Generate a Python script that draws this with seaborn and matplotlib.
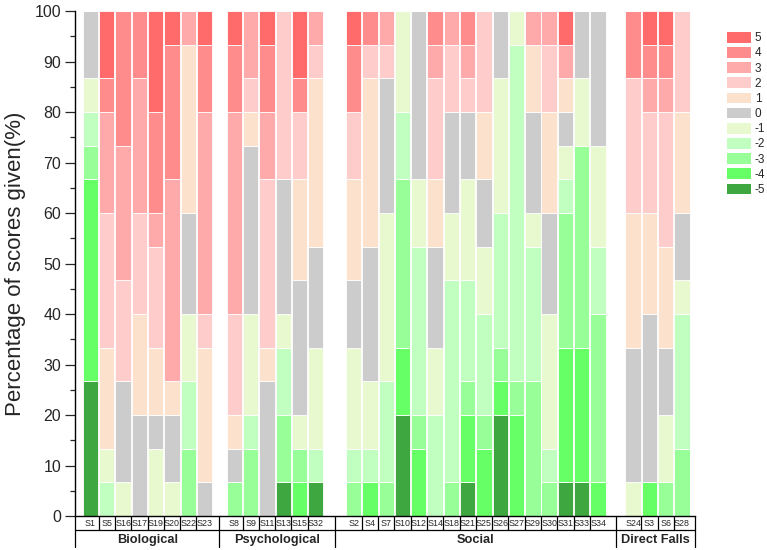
import numpy as np
import pandas as pd
import matplotlib.pyplot as plt
import matplotlib.transforms as mtransforms
from matplotlib.patches import Patch
import seaborn as sns

# score levels, top of the stack first
score_levels = ['5', '4', '3', '2', '1', '0', '-1', '-2', '-3', '-4', '-5']
score_colors = ['#FF6B6B', '#FF8C8C', '#FFAAAA', '#FFCCCC', '#FCE1CC', '#CCCCCC',
                '#E8F8CF', '#C0FFC0', '#98FF98', '#66FF66', '#3FA73F']

group_names = ['Biological', 'Psychological', 'Social', 'Direct Falls']
n_raters = 15

# number of raters giving each score, in the order 5, 4, ..., -5
bio_labels = ['S1', 'S5', 'S16', 'S17', 'S19', 'S20', 'S22', 'S23']
bio_counts = [
    [0, 0, 0, 0, 0, 2, 1, 1, 1, 6, 4],
    [2, 1, 3, 4, 3, 0, 1, 1, 0, 0, 0],
    [0, 4, 4, 3, 0, 3, 1, 0, 0, 0, 0],
    [0, 2, 4, 3, 3, 3, 0, 0, 0, 0, 0],
    [3, 3, 1, 3, 2, 1, 2, 0, 0, 0, 0],
    [1, 4, 6, 0, 1, 2, 1, 0, 0, 0, 0],
    [0, 0, 1, 0, 5, 3, 2, 2, 2, 0, 0],
    [1, 2, 6, 1, 4, 1, 0, 0, 0, 0, 0],
]

psy_labels = ['S8', 'S9', 'S11', 'S13', 'S15', 'S32']
psy_counts = [
    [1, 2, 6, 3, 1, 1, 0, 0, 1, 0, 0],
    [0, 0, 2, 1, 1, 5, 3, 1, 2, 0, 0],
    [1, 2, 2, 5, 1, 4, 0, 0, 0, 0, 0],
    [0, 0, 0, 5, 0, 4, 1, 2, 2, 0, 1],
    [2, 1, 0, 2, 3, 4, 1, 0, 1, 1, 0],
    [0, 0, 1, 1, 5, 3, 3, 1, 0, 0, 1],
]

soc_labels = ['S2', 'S4', 'S7', 'S10', 'S12', 'S14', 'S18', 'S21',
              'S25', 'S26', 'S27', 'S29', 'S30', 'S31', 'S33', 'S34']
soc_counts = [
    [1, 2, 0, 2, 3, 2, 3, 1, 1, 0, 0],
    [0, 1, 0, 1, 5, 4, 2, 1, 0, 1, 0],
    [0, 0, 1, 1, 0, 4, 5, 3, 1, 0, 0],
    [0, 0, 0, 0, 0, 0, 3, 2, 5, 2, 3],
    [0, 0, 0, 0, 0, 5, 2, 5, 1, 2, 0],
    [0, 1, 1, 3, 2, 3, 2, 3, 0, 0, 0],
    [0, 0, 1, 2, 0, 3, 2, 6, 1, 0, 0],
    [0, 1, 1, 1, 0, 2, 3, 3, 1, 2, 1],
    [0, 0, 0, 3, 2, 2, 2, 3, 1, 2, 0],
    [0, 0, 0, 0, 0, 2, 4, 4, 1, 1, 3],
    [0, 0, 0, 0, 0, 0, 1, 10, 1, 3, 0],
    [0, 0, 1, 0, 2, 3, 1, 4, 4, 0, 0],
    [0, 0, 1, 2, 3, 3, 4, 1, 1, 0, 0],
    [1, 0, 1, 0, 1, 1, 1, 1, 4, 4, 1],
    [0, 0, 0, 0, 0, 2, 2, 0, 6, 4, 1],
    [0, 0, 0, 0, 0, 4, 3, 2, 5, 1, 0],
]

fall_labels = ['S24', 'S3', 'S6', 'S28']
fall_counts = [
    [0, 2, 0, 4, 4, 4, 1, 0, 0, 0, 0],
    [1, 1, 1, 3, 3, 5, 0, 0, 0, 1, 0],
    [1, 1, 1, 4, 3, 2, 2, 0, 1, 0, 0],
    [0, 0, 0, 3, 3, 2, 1, 4, 2, 0, 0],
]

# layout: x of the first bar in each group, bars 1 apart
group_starts = [0, 8.83, 16.15, 33.3]
bar_width = 0.94

all_labels = [bio_labels, psy_labels, soc_labels, fall_labels]
all_counts = [bio_counts, psy_counts, soc_counts, fall_counts]

rows = []
group_pos = []
for g, (labels, counts) in enumerate(zip(all_labels, all_counts)):
    xs = [group_starts[g] + i for i in range(len(labels))]
    group_pos.append(xs)
    for x, cnt in zip(xs, counts):
        for s, c in zip(score_levels, cnt):
            rows.append({'pos': x, 'score': s, 'pct': c / n_raters * 100})
df = pd.DataFrame(rows)

all_x = [x for xs in group_pos for x in xs]
edges = sorted([x - bar_width / 2 for x in all_x] + [x + bar_width / 2 for x in all_x])

sns.set_style('ticks')
plt.rcParams['font.family'] = ['Liberation Sans', 'DejaVu Sans']

fig = plt.figure(figsize=(7.67, 5.5), dpi=100)
ax = fig.add_axes([0.0978, 0.0618, 0.8083, 0.9182])

sns.histplot(data=df, x='pos', weights='pct', hue='score', hue_order=score_levels,
             palette=dict(zip(score_levels, score_colors)), multiple='stack',
             bins=edges, alpha=1, edgecolor='white', linewidth=0.6,
             legend=False, ax=ax)

# group boundaries
bounds = [group_pos[0][0] - 0.95]
for a, b in zip(group_pos[:-1], group_pos[1:]):
    bounds.append((a[-1] + b[0]) / 2)
bounds.append(group_pos[-1][-1] + 0.8)

ax.set_xlim(bounds[0], bounds[-1])
ax.set_ylim(0, 100)
ax.set_yticks(np.arange(0, 101, 10))
ax.set_yticks(np.arange(0, 101, 5), minor=True)
ax.set_xticks([])
ax.set_xlabel('')
ax.set_ylabel('Percentage of scores given(%)', fontsize=16, labelpad=6)
ax.tick_params(axis='y', which='major', direction='out', length=7, width=0.9,
               labelsize=11.5, pad=3)
ax.tick_params(axis='y', which='minor', direction='out', length=3.5, width=0.9)
for side in ['top', 'right']:
    ax.spines[side].set_visible(False)
for side in ['left', 'bottom']:
    ax.spines[side].set_linewidth(1.0)
    ax.spines[side].set_color('black')

# two-row category table under the axis
trans = mtransforms.blended_transform_factory(ax.transData, ax.transAxes)
row1 = -0.0277
row2 = -0.0614
ax.plot([bounds[0], bounds[-1]], [row1, row1], color='black', lw=0.9,
        transform=trans, clip_on=False)
for b in bounds:
    ax.plot([b, b], [0, row2], color='black', lw=0.9, transform=trans, clip_on=False)
for g, (labels, xs) in enumerate(zip(all_labels, group_pos)):
    for a, b in zip(xs[:-1], xs[1:]):
        m = (a + b) / 2
        ax.plot([m, m], [0, row1], color='black', lw=0.9, transform=trans, clip_on=False)
    for lab, x in zip(labels, xs):
        ax.text(x, row1 / 2, lab, ha='center', va='center', fontsize=6.4,
                transform=trans, clip_on=False)
    ax.text((bounds[g] + bounds[g + 1]) / 2, (row1 + row2) / 2 - 0.002, group_names[g],
            ha='center', va='center', fontsize=9.2, fontweight='bold',
            transform=trans, clip_on=False)

handles = [Patch(facecolor=c, edgecolor='none', label=s)
           for s, c in zip(score_levels, score_colors)]
fig.legend(handles=handles, loc='upper left', bbox_to_anchor=(727 / 767, 1 - 32 / 550),
           frameon=False, fontsize=8.5, handlelength=2.05, handleheight=1.0,
           labelspacing=0.24, handletextpad=0.3, borderpad=0, borderaxespad=0)

fig.savefig('out.png', dpi=100)
